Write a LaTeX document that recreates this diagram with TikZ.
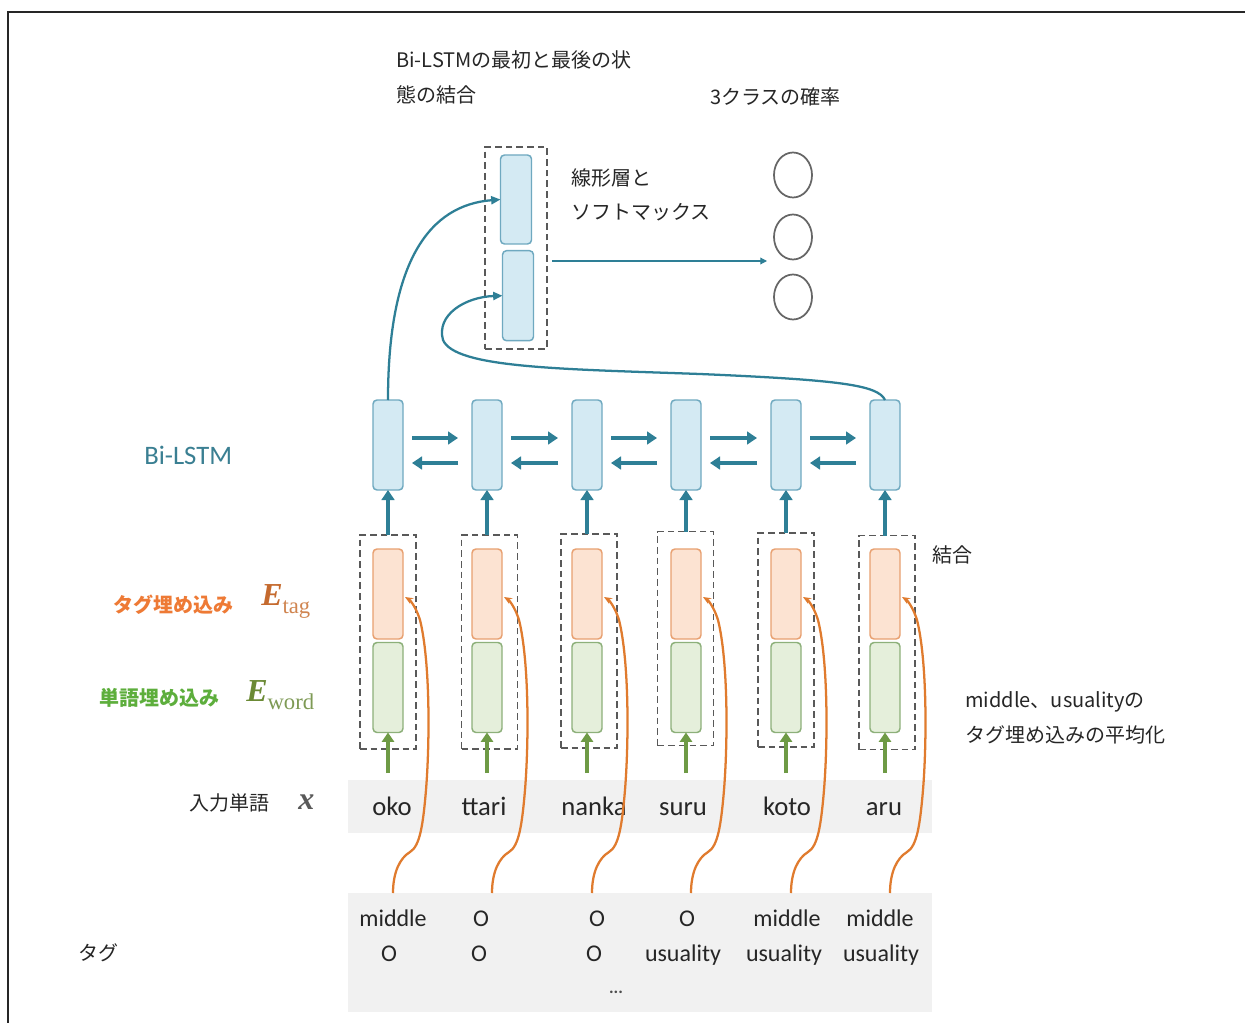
\documentclass[tikz,border=0pt]{standalone}
\usepackage{fontspec}
\setmainfont{Carlito}
\newfontfamily\jp{Noto Sans CJK JP}
\newfontfamily\calfont{Carlito}
\newfontfamily\serifb{Liberation Serif}
\usetikzlibrary{arrows.meta,shapes.geometric,calc}
\definecolor{teal1}{HTML}{2E7F96}
\definecolor{lstmfill}{HTML}{D4EAF3}
\definecolor{lstmdraw}{HTML}{6FA9C0}
\definecolor{orfill}{HTML}{FCE3D2}
\definecolor{ordraw}{HTML}{E8A070}
\definecolor{grfill}{HTML}{E5EFDB}
\definecolor{grdraw}{HTML}{8DB07A}
\definecolor{grarrow}{HTML}{6E9A45}
\definecolor{orcurve}{HTML}{E07B2E}
\definecolor{bandgray}{HTML}{F1F1F1}
\definecolor{tagor}{HTML}{EE7A35}
\definecolor{wordgr}{HTML}{5DAE3C}
\definecolor{bilabel}{HTML}{3A7F92}
\begin{document}
\begin{tikzpicture}[x=0.75pt,y=-0.75pt,
  cellbase/.style={line width=1.1pt,rounded corners=3pt,minimum width=22.5pt,minimum height=67.5pt,inner sep=0pt,outer sep=0pt},
  lstm/.style={cellbase,draw=lstmdraw,fill=lstmfill},
  orc/.style={cellbase,draw=ordraw,fill=orfill},
  grc/.style={cellbase,draw=grdraw,fill=grfill},
  dbox/.style={draw=black!65,line width=1.3pt,dash pattern=on 5pt off 3pt,minimum width=42pt,minimum height=160.5pt,inner sep=0pt,outer sep=0pt},
  bi/.style={draw=teal1,line width=3pt,-{Triangle[length=7.5pt,width=9.5pt]}},
  upar/.style={draw=teal1,line width=3pt,-{Triangle[length=7.5pt,width=9.5pt]}},
  gup/.style={draw=grarrow,line width=2.6pt,-{Triangle[length=7pt,width=9pt]}},
  ocurve/.style={draw=orcurve,line width=1.7pt,-{Stealth[length=6pt,width=5pt]}},
  tcurve/.style={draw=teal1,line width=1.7pt,-{Triangle[length=7pt,width=6pt]}},
  band/.style={fill=bandgray,draw=none,inner sep=0pt,outer sep=0pt},
  jptext/.style={font=\jp\fontsize{15pt}{18pt}\selectfont,inner sep=0pt,anchor=west,text=black!85},
  word/.style={font=\calfont\fontsize{20pt}{22pt}\selectfont,inner sep=0pt,text=black!85,anchor=base},
  tagw/.style={font=\calfont\fontsize{18pt}{20pt}\selectfont,inner sep=0pt,text=black!85,anchor=base},
  outc/.style={ellipse,draw=black!60,line width=1.3pt,minimum width=28.5pt,minimum height=33.75pt,inner sep=0pt}
]
\useasboundingbox (0,0) rectangle (1245,1023);
\fill[white] (0,0) rectangle (1245,1023);
% frame
\draw[line width=1.6pt,black!85] (8,1023) -- (8,12) -- (1245,12);

% gray bands
\node[band,minimum width=438pt,minimum height=39.75pt] (wb) at (640,806.5) {};
\node[band,minimum width=438pt,minimum height=89.25pt] (tb) at (640,952.5) {};

% dashed boxes
\node[dbox] (d1) at (388,642) {};
\node[dbox] (d2) at (489.5,642) {};
\node[dbox] (d3) at (589,641) {};
\node[dbox] (d4) at (685.5,638.5) {};
\node[dbox] (d5) at (786,640) {};
\node[dbox] (d6) at (887,642.5) {};

% cells
\foreach \i/\c in {1/388,2/487,3/587,4/686,5/786,6/885}{
  \node[lstm] (h\i) at (\c,445) {};
  \node[orc] (o\i) at (\c,594) {};
  \node[grc] (g\i) at (\c,687.5) {};
  \coordinate (gs\i) at (\c,773);
  \coordinate (ts\i) at (\c+5,893);
}

% top box
\node[dbox,minimum width=46.5pt,minimum height=151.5pt] (topbox) at (516,248) {};
\node[lstm,minimum width=23.25pt,minimum height=66.75pt] (u1) at (516,199.5) {};
\node[lstm,minimum width=23.25pt,minimum height=67.5pt] (u2) at (518,295.7) {};

% output circles
\node[outc] (c1) at (793,175) {};
\node[outc] (c2) at (793,237) {};
\node[outc] (c3) at (793,297) {};
\coordinate (pend) at (767,261);
\draw[draw=teal1,line width=0.9pt,-{Triangle[length=5pt,width=5pt]}] ($(topbox.east)+(5,13)$) -- (pend);

% bi-LSTM arrows
\foreach \i/\j in {1/2,2/3,3/4,4/5,5/6}{
  \draw[bi] ($(h\i.east)+(9,-7)$) -- ($(h\j.west)+(-14,-7)$);
  \draw[bi] ($(h\j.west)+(-14,18)$) -- ($(h\i.east)+(9,18)$);
}

% up arrows
\foreach \i in {1,...,6}{
  \draw[upar] (d\i.north -| h\i.south) -- (h\i.south);
  \draw[gup] (gs\i) -- (g\i.south);
}

% teal connectors to top cells
\draw[tcurve] (h1.north) .. controls (388,260) and (430,205) .. (u1.west);
\draw[tcurve] (h6.north) .. controls (878,385) and (840,380) .. (700,374)
   .. controls (560,369) and (455,368) .. (443,340)
   .. controls (436,315) and (465,297) .. (u2.west);

% words
\node[word] (w1) at (392,815) {oko};
\node[word] (w2) at (484,815) {ttari};
\node[word] (w3) at (594,815) {nanka};
\node[word] (w4) at (683,815) {suru};
\node[word] (w5) at (787,815) {koto};
\node[word] (w6) at (884,815) {aru};

% tags
\node[tagw] (a1) at (393,926) {middle};
\node[tagw] (a2) at (481,926) {O};
\node[tagw] (a3) at (597,926) {O};
\node[tagw] (a4) at (687,926) {O};
\node[tagw] (a5) at (787,926) {middle};
\node[tagw] (a6) at (880,926) {middle};
\node[tagw] (b1) at (389,961) {O};
\node[tagw] (b2) at (479,961) {O};
\node[tagw] (b3) at (594,961) {O};
\node[tagw] (b4) at (683,961) {usuality};
\node[tagw] (b5) at (784,961) {usuality};
\node[tagw] (b6) at (881,961) {usuality};
\node[font=\calfont\bfseries\fontsize{13pt}{15pt}\selectfont,text=black!70,inner sep=0pt] (dots) at (616,992) {...};

% orange curves
\foreach \i/\c in {1/388,2/487,3/587,4/686,5/786,6/885}{
  \draw[ocurve] (ts\i) .. controls (\c+5,872) and (\c+12,858) .. (\c+22,852)
     .. controls (\c+32,846) and (\c+35,825) .. (\c+38,790)
     .. controls (\c+42,740) and (\c+42,660) .. (\c+32,620)
     .. controls (\c+28,607) and (\c+22,600) .. ($(o\i.east)+(2,3)$);
}

% labels
\node[jptext] (t1) at (396,60) {Bi-LSTMの最初と最後の状};
\node[jptext] (t2) at (396,95) {態の結合};
\node[jptext] (t3) at (710,97) {3クラスの確率};
\node[jptext] (t4) at (571,178) {線形層と};
\node[jptext] (t5) at (571,212) {ソフトマックス};
\node[font=\calfont\fontsize{20pt}{22pt}\selectfont,text=bilabel,inner sep=0pt,anchor=west] (bl) at (144,455) {Bi-LSTM};
\node[jptext,font=\jp\bfseries\fontsize{15pt}{18pt}\selectfont,text=tagor] (tl) at (113,605) {タグ埋め込み};
\node[jptext,font=\jp\bfseries\fontsize{15pt}{18pt}\selectfont,text=wordgr] (wl) at (99,698) {単語埋め込み};
\node[inner sep=0pt,anchor=west] (etag) at (261,601) {\serifb\fontsize{24pt}{24pt}\selectfont\color[HTML]{C56A2E}\bfseries\itshape E\raisebox{-6pt}{\mdseries\upshape\fontsize{17pt}{17pt}\selectfont\color[HTML]{D08550}tag}};
\node[inner sep=0pt,anchor=west] (eword) at (246,695) {\serifb\fontsize{24pt}{24pt}\selectfont\color[HTML]{6B8A35}\bfseries\itshape E\raisebox{-6pt}{\mdseries\upshape\fontsize{17pt}{17pt}\selectfont\color[HTML]{7E9A55}word}};
\node[jptext] (il) at (189,803) {入力単語};
\node[inner sep=0pt,anchor=west,text=black!65] (xl) at (298,802) {\serifb\fontsize{24pt}{24pt}\selectfont\bfseries\itshape x};
\node[jptext] (kl) at (932,555) {結合};
\node[jptext] (m1) at (965,702) {middle、usualityの};
\node[jptext] (m2) at (965,735) {タグ埋め込みの平均化};
\node[jptext] (tg) at (78,953) {タグ};
\end{tikzpicture}
\end{document}
